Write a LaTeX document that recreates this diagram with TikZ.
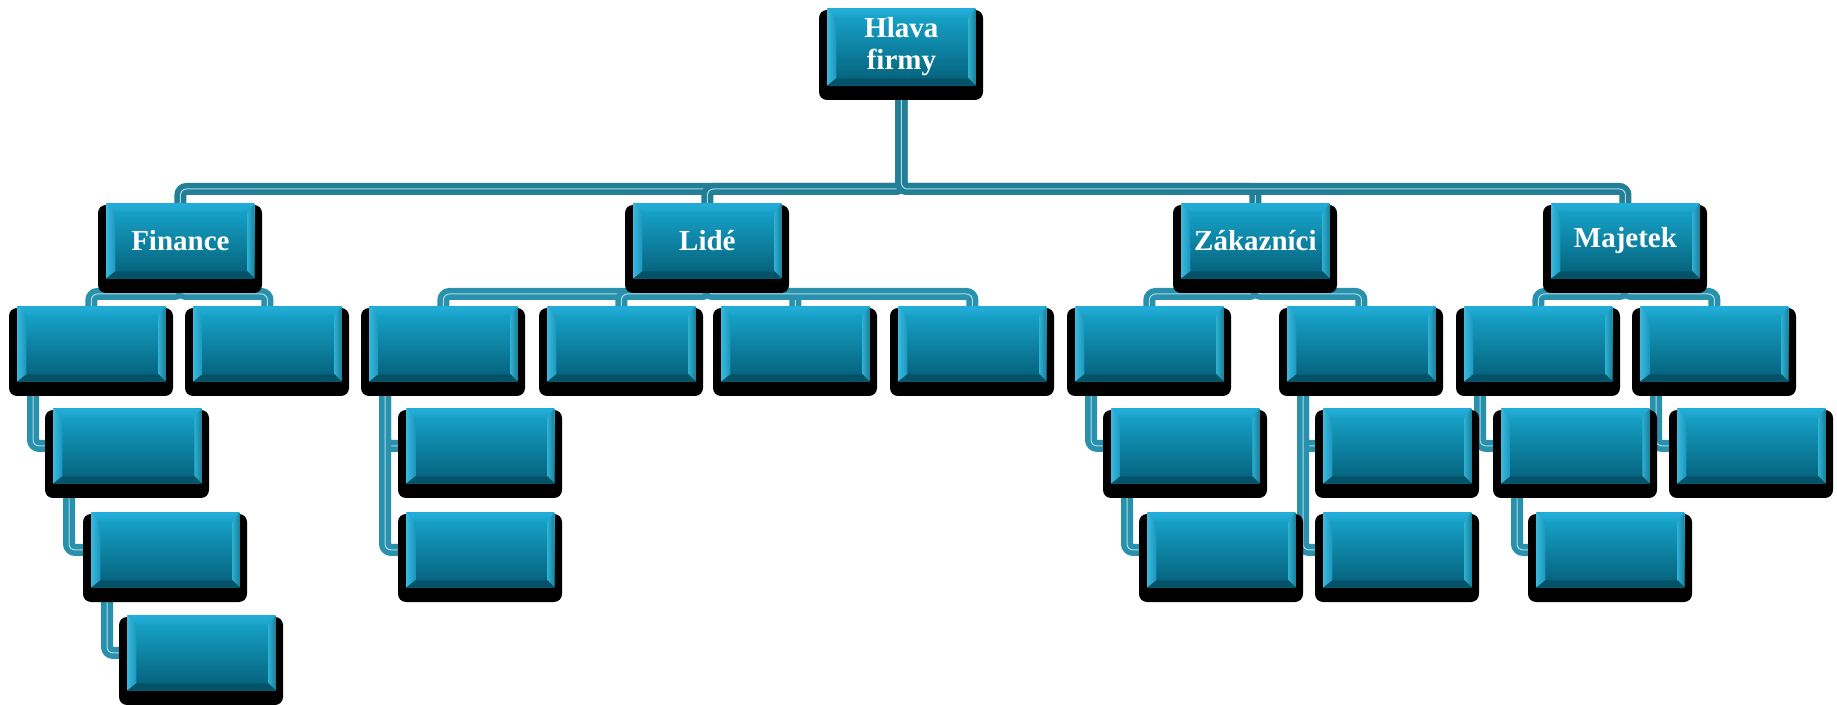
\documentclass[tikz,border=0pt]{standalone}
\usepackage{fontspec}
\setmainfont{Liberation Serif}
\usetikzlibrary{calc}
\definecolor{faceTop}{HTML}{18A8D0}
\definecolor{faceBot}{HTML}{045E77}
\definecolor{bvTopA}{HTML}{22AEDA}
\definecolor{bvTopB}{HTML}{7DF5FF}
\definecolor{bvTopC}{HTML}{1BA2CA}
\definecolor{bvLeftA}{HTML}{38B8DC}
\definecolor{bvLeftB}{HTML}{1A96BE}
\definecolor{bvRightA}{HTML}{2AAFD2}
\definecolor{bvRightB}{HTML}{C8FDFF}
\definecolor{bvRightC}{HTML}{1E7F98}
\definecolor{bvBot}{HTML}{035267}
\definecolor{pipeMain}{HTML}{237F96}
\definecolor{pipeSub}{HTML}{2991AB}
\definecolor{pipeLight}{HTML}{A9DCE8}
\pgfdeclarelayer{bg}
\pgfsetlayers{bg,main}
\tikzset{
  bevel/.style={anchor=north west, minimum width=74pt, minimum height=37.5pt, inner sep=0pt,
    align=center, text=white, font=\bfseries\fontsize{14.5}{16}\selectfont,
    top color=faceTop, bottom color=faceBot, draw=none,
    path picture={
      \path (path picture bounding box.north west) coordinate (bNW)
            (path picture bounding box.north east) coordinate (bNE)
            (path picture bounding box.south west) coordinate (bSW)
            (path picture bounding box.south east) coordinate (bSE);
      \shade[left color=bvLeftA, right color=bvLeftB] (bNW) -- ([shift={(4.5pt,-4.5pt)}]bNW) -- ([shift={(4.5pt,3.5pt)}]bSW) -- (bSW) -- cycle;
      \shade[left color=bvRightA, middle color=bvRightB, right color=bvRightC] (bNE) -- (bSE) -- ([shift={(-3.5pt,3.5pt)}]bSE) -- ([shift={(-3.5pt,-4.5pt)}]bNE) -- cycle;
      \fill[bvBot] (bSW) -- ([shift={(4.5pt,3.5pt)}]bSW) -- ([shift={(-3.5pt,3.5pt)}]bSE) -- (bSE) -- cycle;
      \shade[top color=bvTopA, middle color=bvTopB, bottom color=bvTopC] (bNW) -- (bNE) -- ([shift={(-3.5pt,-4.5pt)}]bNE) -- ([shift={(4.5pt,-4.5pt)}]bNW) -- cycle;
    }},
  shadowbox/.style={fill=black, rounded corners=4pt},
  pipeA/.style={draw=pipeMain, line width=6pt, rounded corners=3pt},
  pipeB/.style={draw=pipeSub, line width=6pt, rounded corners=3pt},
  pipeHL/.style={draw=pipeLight, line width=0.5pt, rounded corners=3pt, xshift=-1.8pt, yshift=-1.8pt}
}
\newcommand\obx[4]{% name, left, top, text
  \fill[shadowbox] (#2-8,#3+2) rectangle (#2+156,#3+90);
  \node[bevel] (#1) at (#2,#3) {#4};
}
\newcommand\mainpipe[1]{\draw[pipeA] #1; \draw[pipeHL] #1;}
\newcommand\subpipe[1]{\draw[pipeB] #1; \draw[pipeHL] #1;}
\begin{document}
\begin{tikzpicture}[x=0.5pt,y=-0.5pt]
\useasboundingbox (0,0) rectangle (1837,705);
% top
\fill[shadowbox] (819,10) rectangle (983,100);
\node[bevel, minimum height=38.5pt] (H) at (827,8) {Hlava\\firmy};
% level 1
\obx{Fin}{106}{203}{Finance}
\obx{Lid}{633}{203}{Lidé}
\obx{Zak}{1181}{203}{Zákazníci}
\obx{Maj}{1551}{203}{Majetek}
% level 2
\obx{f1}{17}{306}{}
\obx{f2}{193}{306}{}
\obx{l1}{369}{306}{}
\obx{l2}{547}{306}{}
\obx{l3}{721}{306}{}
\obx{l4}{898}{306}{}
\obx{z1}{1075}{306}{}
\obx{z2}{1287}{306}{}
\obx{m1}{1464}{306}{}
\obx{m2}{1640}{306}{}
% level 3
\obx{f1a}{53}{408}{}
\obx{l1a}{406}{408}{}
\obx{z1a}{1111}{408}{}
\obx{z2a}{1323}{408}{}
\obx{m1a}{1501}{408}{}
\obx{m2a}{1677}{408}{}
% level 4
\obx{f1b}{91}{512}{}
\obx{l1b}{406}{512}{}
\obx{z1b}{1147}{512}{}
\obx{z2b}{1323}{512}{}
\obx{m1b}{1536}{512}{}
% level 5
\obx{f1c}{127}{615}{}
% connectors
\begin{pgfonlayer}{bg}
\foreach \c in {Fin,Lid,Zak,Maj}{
  \mainpipe{(H.south) |- ([yshift=7pt]\c.north) -- (\c.north)}
}
\foreach \p/\c in {Fin/f1,Fin/f2,Lid/l1,Lid/l2,Lid/l3,Lid/l4,Zak/z1,Zak/z2,Maj/m1,Maj/m2}{
  \subpipe{(\p.south) |- ([yshift=6pt]\c.north) -- (\c.north)}
}
\foreach \p/\c in {f1/f1a,f1a/f1b,f1b/f1c,l1/l1a,l1/l1b,z1/z1a,z1a/z1b,z2/z2a,z2/z2b,m1/m1a,m1a/m1b,m2/m2a}{
  \subpipe{([xshift=8pt]\p.south west) |- (\c.west)}
}
\end{pgfonlayer}
\end{tikzpicture}
\end{document}
